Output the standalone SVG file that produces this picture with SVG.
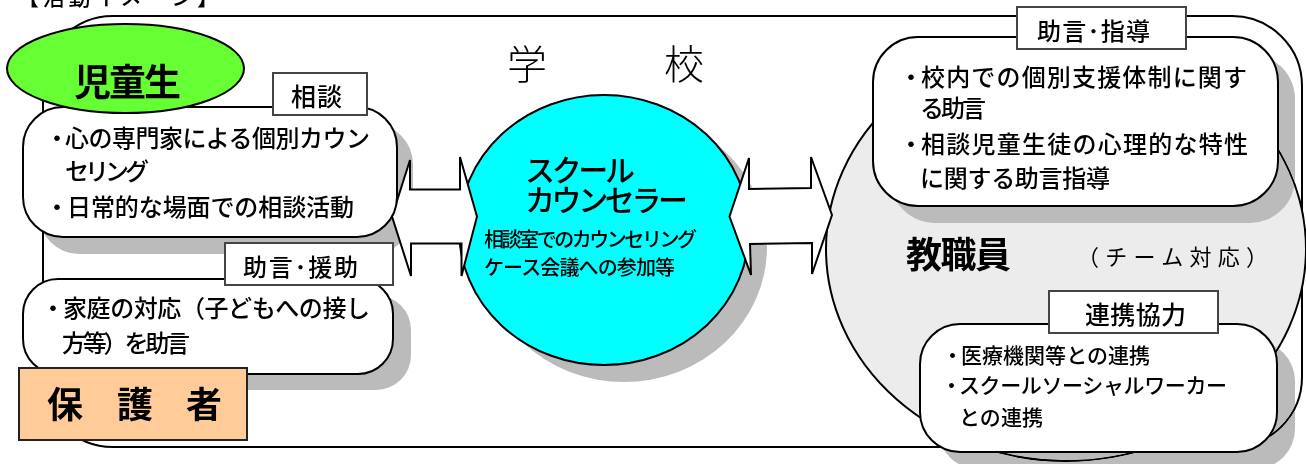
<svg xmlns="http://www.w3.org/2000/svg" width="1306" height="464" viewBox="0 0 1306 464">
<style>
text{font-family:"Noto Sans CJK JP","Noto Sans",sans-serif;fill:#000;font-weight:500}
.l{fill:#fff;stroke:#000;stroke-width:2}
.s{fill:#bbb;stroke:none;mix-blend-mode:darken}
.lb{fill:#fff;stroke:#444;stroke-width:2}
.t24{font-size:24px}
.t25{font-size:25px}
.t21{font-size:21px}
.t20{font-size:20px}
.b{font-weight:700;font-size:36px}
</style>
<rect width="1306" height="464" fill="#fff"/>
<text id="title" x="17" y="5" style="font-size:22px" textLength="202">【活動イメージ】</text>
<g id="school">
<rect x="43" y="16" width="1259" height="431" rx="70" ry="70" fill="#fff" stroke="#000" stroke-width="2"/>
<text x="507" y="79" style="font-size:40px;font-weight:300">学</text>
<text x="664" y="79" style="font-size:40px;font-weight:300">校</text>
</g>
<g id="shadows">
<rect class="s" x="39" y="124" width="374" height="130" rx="40"/>
<rect class="s" x="41" y="295" width="370" height="95" rx="35"/>
<ellipse class="s" cx="624" cy="247" rx="143" ry="135"/>
</g>
<g id="counselor">
<ellipse cx="604" cy="230" rx="145" ry="135" fill="#0ff" stroke="#000" stroke-width="2"/>
</g>
<g id="teachers">
<ellipse cx="1066" cy="249" rx="240" ry="212" fill="#ececec" stroke="#000" stroke-width="2"/>
<text class="b" x="906" y="268" textLength="105">教職員</text>
<text x="1077" y="265" style="font-size:22px;font-weight:400" textLength="191">（チーム対応）</text>
</g>
<g id="connectors">
<path class="l" d="M410 160V189.500H460V157L477 216.500L461.500 276V243.500H411V276L392 216.500Z"/>
<path class="l" d="M749 158V189L811 188V157L832 215L812 274V243L750 244L751 275L729.500 216.500Z"/>
</g>
<g id="box-soudan">
<rect class="l" x="23" y="107" width="374" height="130" rx="40"/>
<text class="t24" x="45" y="147">・<tspan x="65" textLength="305">心の専門家による個別カウン</tspan></text>
<text class="t24" x="65" y="180" textLength="84">セリング</text>
<text class="t24" x="45" y="216">・<tspan x="67" textLength="287">日常的な場面での相談活動</tspan></text>
</g>
<g id="label-soudan">
<rect class="lb" x="273" y="73" width="94" height="42"/>
<text class="t25" x="291" y="106" textLength="51">相談</text>
</g>
<g id="jidou">
<ellipse cx="125.500" cy="68.500" rx="118.500" ry="44.500" fill="#6f3" stroke="#000" stroke-width="2"/>
<text x="74" y="96" class="b" style="font-size:37px" textLength="107">児童生</text>
</g>
<g id="box-jogen">
<rect class="l" x="23" y="279" width="370" height="95" rx="35"/>
<text class="t24" x="41" y="317">・<tspan x="63" textLength="307">家庭の対応（子どもへの接し</tspan></text>
<text class="t24" x="62" y="352" textLength="128">方等）を助言</text>
</g>
<g id="label-jogen">
<rect class="lb" x="225" y="243" width="168" height="42"/>
<text class="t24" x="243" y="276" textLength="115">助言･援助</text>
</g>
<g id="hogosha">
<rect x="19" y="368" width="228" height="72" fill="#fc9" stroke="#222" stroke-width="2"/>
<text x="47" y="418" class="b">保</text>
<text x="117" y="418" class="b">護</text>
<text x="186" y="418" class="b">者</text>
</g>
<g id="counselor-text">
<text x="525" y="181" style="font-size:30px" textLength="110">スクール</text>
<text x="525" y="211" style="font-size:30px" textLength="163">カウンセラー</text>
<text class="t20" x="484" y="247" textLength="213">相談室でのカウンセリング</text>
<text class="t20" x="484" y="275" textLength="191">ケース会議への参加等</text>
</g>
<g id="box-shidou">
<rect class="s" x="890" y="54" width="405" height="169" rx="45"/>
<rect class="l" x="873" y="37" width="405" height="169" rx="45"/>
<text class="t24" x="899" y="86">・<tspan x="921" textLength="326">校内での個別支援体制に関す</tspan></text>
<text class="t24" x="920" y="117" textLength="66">る助言</text>
<text class="t24" x="899" y="153">・<tspan x="921" textLength="327">相談児童生徒の心理的な特性</tspan></text>
<text class="t24" x="920" y="187" textLength="190">に関する助言指導</text>
</g>
<g id="label-shidou">
<rect class="lb" x="1017" y="7" width="169" height="42"/>
<text class="t24" x="1037" y="40" textLength="113">助言･指導</text>
</g>
<g id="box-renkei">
<rect class="s" x="938" y="341" width="357" height="128" rx="40"/>
<rect class="l" x="920" y="324" width="357" height="128" rx="40"/>
<text class="t21" x="942" y="363">・<tspan x="961" textLength="189">医療機関等との連携</tspan></text>
<text class="t21" x="941" y="393">・<tspan x="959" textLength="268">スクールソーシャルワーカー</tspan></text>
<text class="t21" x="959" y="425" textLength="84">との連携</text>
</g>
<g id="label-renkei">
<rect class="lb" x="1049" y="291" width="169" height="42"/>
<text class="t25" x="1085" y="324" textLength="101">連携協力</text>
</g>
</svg>
